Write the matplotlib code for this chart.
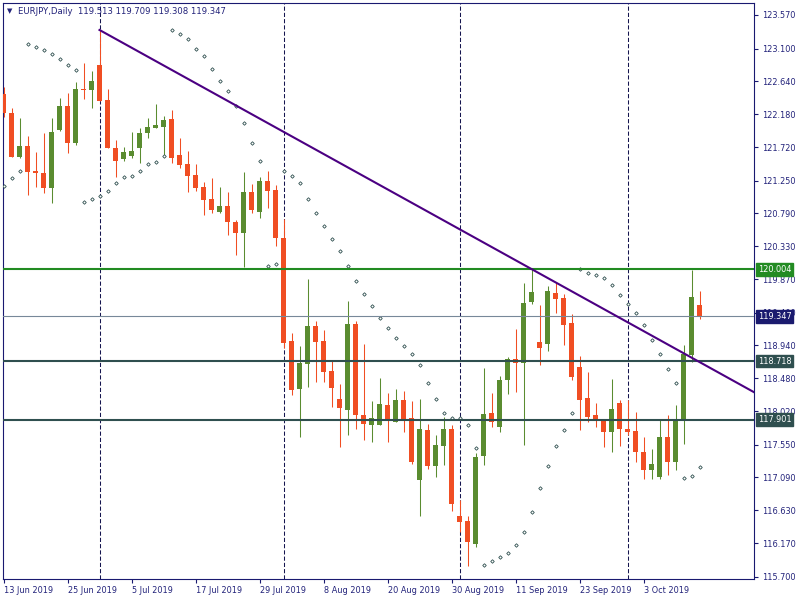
import matplotlib
matplotlib.use('Agg')
import matplotlib.pyplot as plt
import numpy as np

# daily EURJPY bars, 13 Jun 2019 .. 14 Oct 2019
opens = [122.46, 122.19, 121.58, 121.73, 121.38, 121.36, 121.15, 121.96, 122.29, 121.77,
         122.53, 122.52, 122.87, 122.38, 121.70, 121.55, 121.59, 121.71, 121.91, 121.99,
         122.00, 122.11, 121.61, 121.48, 121.33, 121.16, 120.99, 120.81, 120.89, 120.67,
         120.51, 121.09, 120.81, 121.24, 121.12, 120.45, 119.00, 118.33, 118.68, 119.21,
         119.00, 118.58, 118.19, 118.04, 119.24, 117.96, 117.82, 117.82, 118.10, 117.87,
         118.18, 117.92, 117.05, 117.75, 117.25, 117.53, 117.77, 116.55, 116.48, 116.16,
         117.39, 117.99, 117.80, 118.46, 118.75, 118.70, 119.55, 118.99, 118.96, 119.67,
         119.60, 119.25, 118.64, 118.20, 117.97, 117.91, 117.72, 118.13, 117.77, 117.74,
         117.45, 117.19, 117.10, 117.66, 117.31, 117.89, 118.80, 119.513]
highs = [122.56, 122.26, 122.13, 121.87, 121.65, 121.91, 122.13, 122.41, 122.48, 122.63,
         122.90, 122.79, 123.36, 122.53, 121.82, 121.72, 121.93, 121.98, 122.13, 122.32,
         122.15, 122.24, 121.85, 121.67, 121.48, 121.23, 121.29, 121.16, 121.09, 120.70,
         121.37, 121.20, 121.30, 121.38, 121.19, 120.71, 119.12, 118.93, 119.87, 119.28,
         119.16, 118.74, 118.40, 119.56, 119.28, 118.96, 118.16, 118.48, 118.27, 118.33,
         118.30, 118.16, 118.19, 117.84, 117.69, 117.94, 117.83, 116.77, 116.55, 117.43,
         118.62, 118.27, 118.51, 118.78, 119.17, 119.82, 120.01, 119.51, 119.77, 119.83,
         119.66, 119.38, 118.79, 118.57, 118.13, 117.91, 118.47, 118.18, 118.18, 118.01,
         117.66, 117.49, 117.90, 117.97, 118.10, 118.95, 120.00, 119.709]
lows = [122.14, 121.58, 121.57, 121.05, 121.16, 121.08, 120.94, 121.95, 121.64, 121.75,
        122.39, 122.27, 122.37, 121.70, 121.30, 121.53, 121.57, 121.50, 121.84, 121.98,
        121.58, 121.50, 121.43, 121.09, 121.10, 120.77, 120.79, 120.79, 120.49, 120.20,
        120.04, 120.79, 120.73, 120.87, 120.34, 118.91, 118.25, 117.66, 118.36, 118.43,
        118.43, 118.08, 117.51, 117.68, 117.77, 117.62, 117.58, 117.82, 117.58, 117.87,
        117.72, 117.28, 116.55, 117.21, 117.10, 117.26, 116.62, 116.33, 115.85, 116.12,
        117.26, 117.80, 117.73, 118.26, 118.29, 117.55, 119.52, 118.67, 118.86, 119.39,
        118.95, 118.45, 117.75, 117.87, 117.79, 117.51, 117.44, 117.53, 117.68, 117.31,
        117.07, 117.07, 117.07, 117.13, 117.20, 117.56, 118.71, 119.308]
closes = [122.19, 121.58, 121.73, 121.37, 121.35, 121.14, 121.93, 122.29, 121.78, 122.53,
          122.52, 122.65, 122.37, 121.70, 121.53, 121.65, 121.66, 121.91, 122.00, 122.03,
          122.10, 121.56, 121.47, 121.32, 121.15, 120.98, 120.84, 120.89, 120.67, 120.51,
          121.09, 120.84, 121.24, 121.11, 120.45, 118.98, 118.32, 118.69, 119.21, 118.99,
          118.57, 118.35, 118.07, 119.24, 117.96, 117.84, 117.92, 118.12, 117.90, 118.18,
          117.90, 117.31, 117.77, 117.25, 117.55, 117.77, 116.72, 116.47, 116.19, 117.38,
          117.98, 117.87, 118.46, 118.75, 118.70, 119.53, 119.69, 118.90, 119.70, 119.59,
          119.23, 118.50, 118.18, 117.94, 117.90, 117.73, 118.05, 117.77, 117.73, 117.45,
          117.19, 117.28, 117.66, 117.31, 117.91, 118.82, 119.62, 119.347]

# parabolic SAR dots
sar = [121.17, 121.28, 121.39, 123.17, 123.12, 123.08, 123.03, 122.95, 122.87, 122.80,
       120.95, 120.99, 121.03, 121.11, 121.21, 121.30, 121.31, 121.39, 121.48, 121.51,
       121.59, 123.36, 123.31, 123.24, 123.10, 122.99, 122.81, 122.64, 122.50, 122.30,
       122.05, 121.77, 121.52, 120.05, 120.08, 121.38, 121.32, 121.21, 120.99, 120.79,
       120.61, 120.43, 120.26, 120.05, 119.84, 119.66, 119.49, 119.33, 119.18, 119.05,
       118.93, 118.82, 118.66, 118.41, 118.19, 117.99, 117.93, 117.93, 117.82, 117.50,
       115.86, 115.92, 115.97, 116.03, 116.14, 116.32, 116.60, 116.94, 117.25, 117.53,
       117.76, 117.99, 120.01, 119.96, 119.92, 119.88, 119.78, 119.64, 119.52, 119.39,
       119.22, 119.01, 118.82, 118.61, 118.42, 117.08, 117.11, 117.23]

date_ticks = list(range(0, 88, 8))
date_labels = ['13 Jun 2019', '25 Jun 2019', '5 Jul 2019', '17 Jul 2019', '29 Jul 2019',
               '8 Aug 2019', '20 Aug 2019', '30 Aug 2019', '11 Sep 2019', '23 Sep 2019',
               '3 Oct 2019']
month_starts = [12, 35, 57, 78]
price_ticks = [123.57, 123.10, 122.64, 122.18, 121.72, 121.25, 120.79, 120.33, 119.87,
               119.40, 118.94, 118.48, 118.02, 117.55, 117.09, 116.63, 116.17, 115.70]

resistance = 120.004
supports = [118.718, 117.901]
bid = 119.347
trend_x = [12, 66]
trend_y = [123.36, 120.01]

BULL = '#5a8c30'
BEAR = '#f04e23'
AXIS = '#191970'
TXT = '#22227a'
GREEN = '#228b22'
SLATE = '#2f4f4f'
NAVY = '#1a1a6e'
FS = 5.9

fig = plt.figure(figsize=(8, 6), dpi=100)
ax = fig.add_axes([2.7 / 800, 20.7 / 600, 751.3 / 800, 576.6 / 600])
ax.set_xlim(-0.1, 93.81)
ax.set_ylim(115.663, 123.742)

x = np.arange(len(opens))
o = np.array(opens); h = np.array(highs); l = np.array(lows); c = np.array(closes)
cols = np.where(c >= o, BULL, BEAR)

ax.vlines(x, l, h, colors=cols, linewidth=0.75, zorder=3)
ax.bar(x, np.maximum(np.abs(c - o), 0.012), bottom=np.minimum(o, c), width=0.62,
       color=cols, linewidth=0, zorder=4)

ax.plot(x, sar, ls='none', marker='D', ms=1.8, mfc='white', mec=SLATE, mew=0.6, zorder=5)

for m in month_starts:
    ax.axvline(m, color='#15154f', lw=0.75, ls=(0, (4, 2)), zorder=2)

ax.axhline(bid, color='#778899', lw=0.8, zorder=6)
ax.axhline(resistance, color=GREEN, lw=1.5, zorder=6)
for s in supports:
    ax.axhline(s, color=SLATE, lw=1.5, zorder=6)

# trend line as a ray to the right edge
slope = (trend_y[1] - trend_y[0]) / (trend_x[1] - trend_x[0])
x_end = ax.get_xlim()[1]
ax.plot([trend_x[0], x_end], [trend_y[0], trend_y[0] + slope * (x_end - trend_x[0])],
        color='#4b0082', lw=1.5, zorder=7)

for sp in ax.spines.values():
    sp.set_color(AXIS)
    sp.set_linewidth(0.8)

ax.yaxis.tick_right()
ax.set_yticks(price_ticks)
ax.set_yticklabels([f'{v:.3f}' for v in price_ticks])
ax.tick_params(axis='y', direction='out', length=3, width=0.8, color=AXIS,
               labelcolor=TXT, labelsize=FS, pad=2.5)
ax.set_xticks(date_ticks)
ax.set_xticklabels(date_labels, ha='left')
ax.tick_params(axis='x', direction='out', length=3, width=0.8, color=AXIS,
               labelcolor=TXT, labelsize=FS, pad=1.5)

trans = ax.get_yaxis_transform()
for val, fc in [(resistance, GREEN), (bid, NAVY), (supports[0], SLATE), (supports[1], SLATE)]:
    ax.text(1.0055, val, f'{val:.3f}', transform=trans, ha='left', va='center',
            fontsize=FS, color='white', zorder=10, clip_on=False,
            bbox=dict(boxstyle='square,pad=0.2', fc=fc, ec=fc))

fig.text(7 / 800, 1 - 11 / 600, '▼', fontsize=5, color=TXT, va='center')
fig.text(18 / 800, 1 - 11 / 600,
         f'EURJPY,Daily  {opens[-1]:.3f} {highs[-1]:.3f} {lows[-1]:.3f} {closes[-1]:.3f}',
         fontsize=6.1, color=TXT, va='center')

fig.savefig('out.png', dpi=100)
